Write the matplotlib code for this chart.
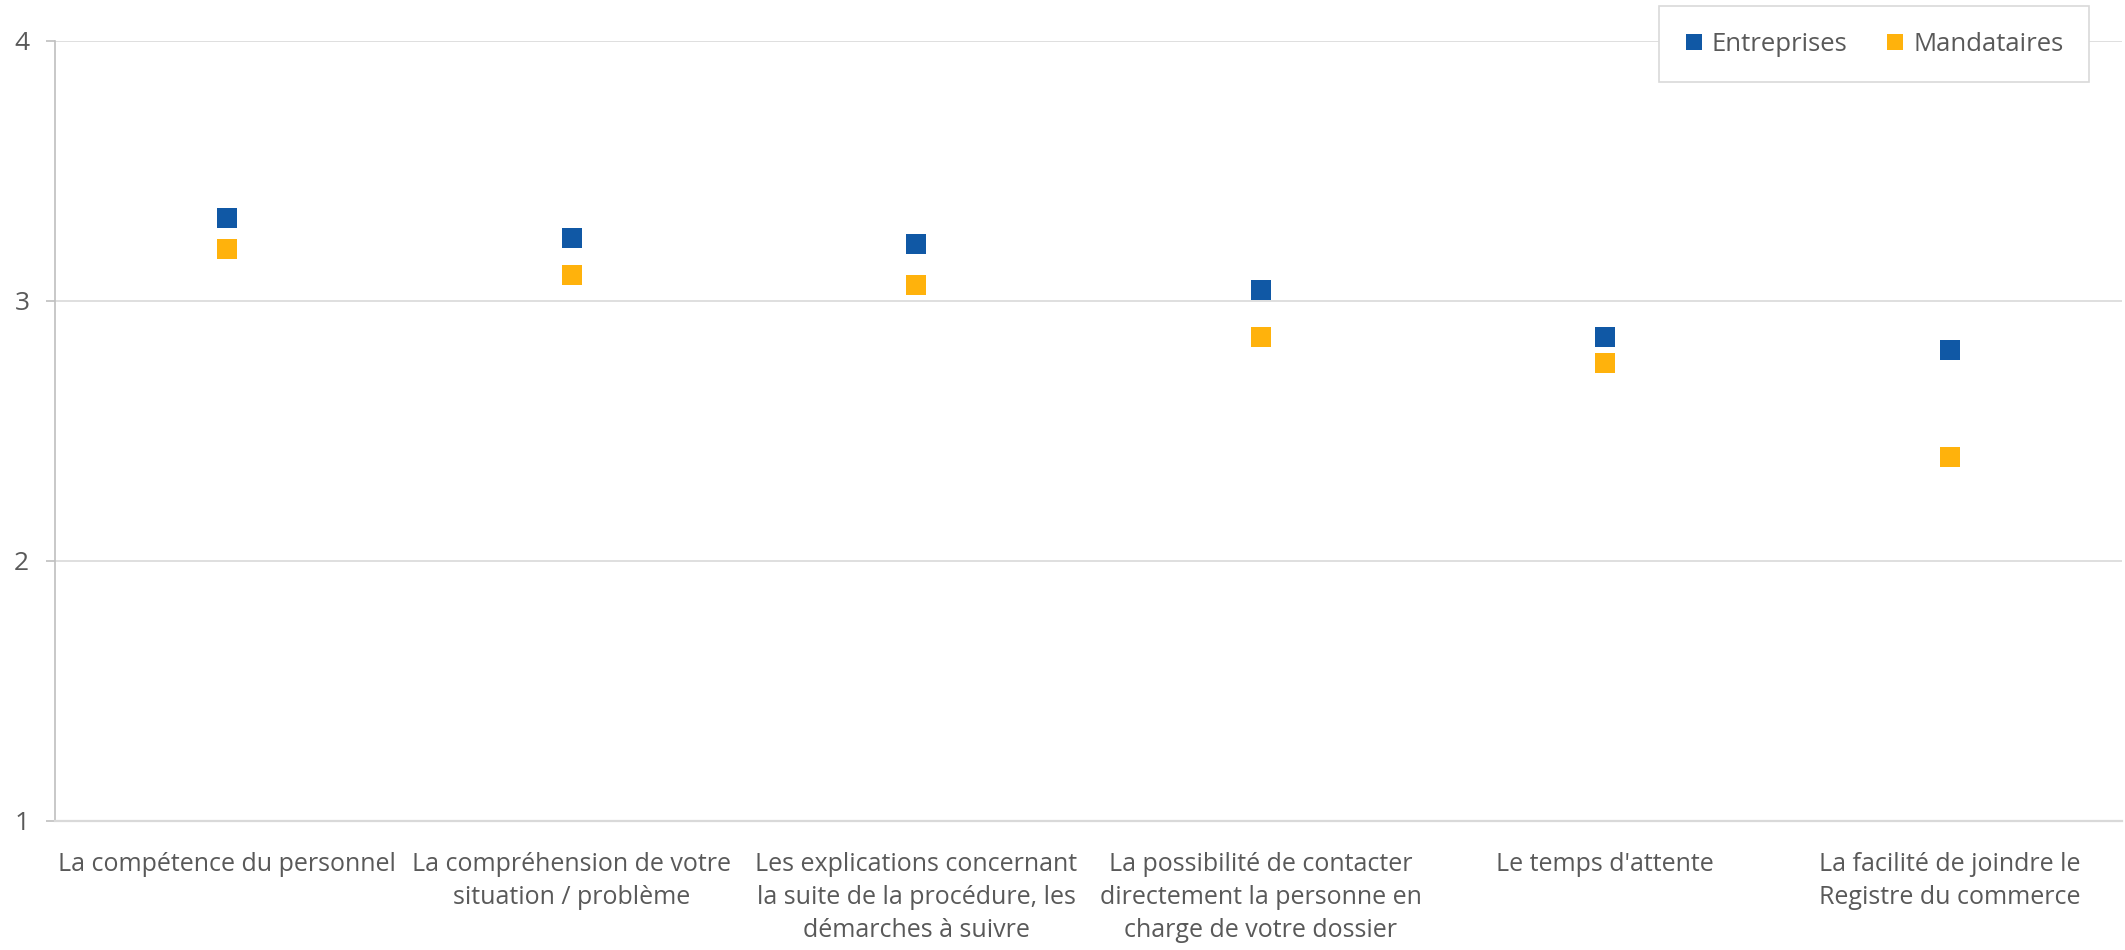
import matplotlib.pyplot as plt
import matplotlib as mpl
import numpy as np

mpl.rcParams["font.family"] = ["Open Sans", "DejaVu Sans"]

# -------- données --------
categories = [
    "La compétence du personnel",
    "La compréhension de votre\nsituation / problème",
    "Les explications concernant\nla suite de la procédure, les\ndémarches à suivre",
    "La possibilité de contacter\ndirectement la personne en\ncharge de votre dossier",
    "Le temps d'attente",
    "La facilité de joindre le\nRegistre du commerce",
]
entreprises = [3.32, 3.24, 3.22, 3.04, 2.86, 2.81]
mandataires = [3.20, 3.10, 3.06, 2.86, 2.76, 2.40]

BLUE = "#1058A5"
ORANGE = "#FFB20C"
TXT = "#595959"
GRID = "#D9D9D9"

fig = plt.figure(figsize=(21.25, 9.5), dpi=100)
ax = fig.add_axes([0.0259, 0.1358, 0.9727, 0.8213])

x = np.arange(len(categories))
ax.plot(x, entreprises, "s", ms=13.7, mew=0, color=BLUE, label="Entreprises", zorder=3)
ax.plot(x, mandataires, "s", ms=13.7, mew=0, color=ORANGE, label="Mandataires", zorder=3)

ax.set_xlim(-0.5, len(categories) - 0.5)
ax.set_ylim(1, 4)
ax.set_yticks([1, 2, 3, 4])
ax.set_xticks(x)
ax.set_xticklabels(categories, fontsize=18, color=TXT, linespacing=1.42, va="top")
ax.tick_params(axis="x", length=0, pad=22)
ax.tick_params(axis="y", length=6.5, width=1.2, color="#BFBFBF", labelsize=19,
               labelcolor=TXT, pad=12)

ax.grid(axis="y", color=GRID, lw=1.2)
ax.set_axisbelow(True)
for s in ["top", "right"]:
    ax.spines[s].set_visible(False)
ax.spines["left"].set_color("#BFBFBF")
ax.spines["left"].set_linewidth(1.2)
ax.spines["bottom"].set_color(GRID)
ax.spines["bottom"].set_linewidth(1.6)

# légende encadrée en haut à droite
leg = ax.legend(loc="upper right", bbox_to_anchor=(2089 / 2125, 1 - 6 / 950),
                bbox_transform=fig.transFigure, borderaxespad=0, ncol=2,
                frameon=True, fancybox=False, framealpha=1,
                fontsize=18.5, markerscale=0.85, handlelength=0.7, handletextpad=0.35,
                columnspacing=1.5, borderpad=1.0, labelcolor=TXT)
leg.get_frame().set_edgecolor(GRID)
leg.get_frame().set_linewidth(1.2)

fig.savefig("out.png", dpi=100)
